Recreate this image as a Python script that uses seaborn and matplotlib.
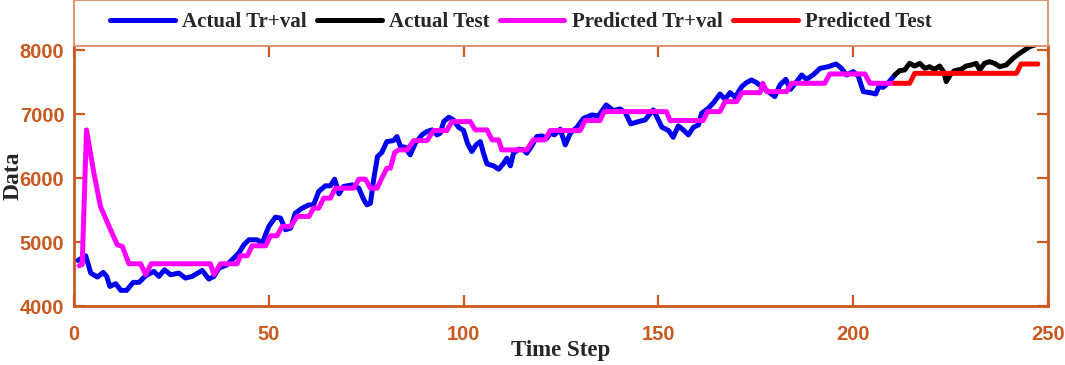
import numpy as np
import pandas as pd
import seaborn as sns
import matplotlib.pyplot as plt
from matplotlib.patches import Rectangle

# %%
# values
actual_trval_t = [1, 3, 4.3, 6, 7.5, 8.4, 9.2, 10.7, 12, 13.5, 15.2, 16.7, 18.4, 20.5, 21.8,
                  23.2, 24.8, 26.9, 28.6, 30.3, 32.9, 34.6, 35.9, 37.2, 39.3, 41, 42.3, 43.6,
                  44.9, 47, 48.3, 50, 51.7, 53, 54.3, 55.6, 56.8, 58.6, 60.3, 61.5, 62.8, 64.5,
                  65.8, 66.9, 68, 69.2, 71.4, 73.1, 74.4, 75.2, 76.1, 76.9, 77.9, 79, 80.3, 82,
                  82.9, 83.8, 85, 86.3, 87.6, 89.3, 90.6, 91.9, 93.2, 94, 94.9, 96.2, 97.4, 98.7,
                  100, 101, 102.1, 103.2, 104.3, 105.1, 106, 107.7, 109, 110.3, 111.1, 112, 112.8,
                  114.1, 115.4, 116.2, 117.5, 118.8, 120.1, 121.4, 122.2, 123.3, 124.8, 126.1,
                  127.4, 129.1, 130.8, 132.9, 134.6, 136.6, 138.5, 140.2, 141.5, 142.9, 144.9,
                  146.6, 147.4, 148.7, 150, 150.9, 152.6, 153.8, 155.1, 156.4, 157.7, 159, 160.3,
                  161.1, 162.8, 164.3, 165.8, 167.1, 168.4, 169.7, 171.4, 172.6, 173.9, 175.2,
                  176.5, 178.2, 179.9, 181.2, 182.7, 183.9, 185.5, 186.8, 188, 189.7, 191.5,
                  193.6, 195.6, 197, 198.3, 200, 201.3, 202.6, 204.3, 205.8, 206.6, 207.7, 208.9,
                  210.7]
actual_trval = [4713, 4786, 4515, 4453, 4526, 4463, 4307, 4349, 4245, 4245, 4370, 4370, 4474,
                4541, 4463, 4567, 4489, 4515, 4437, 4463, 4557, 4422, 4463, 4593, 4646, 4750,
                4828, 4958, 5036, 5036, 4984, 5245, 5390, 5375, 5193, 5219, 5453, 5531, 5583,
                5583, 5791, 5880, 5880, 5984, 5755, 5870, 5895, 5843, 5661, 5583, 5609, 5974,
                6338, 6401, 6572, 6588, 6651, 6494, 6484, 6364, 6546, 6677, 6729, 6755, 6677,
                6703, 6885, 6953, 6911, 6797, 6745, 6546, 6416, 6520, 6572, 6390, 6224, 6192,
                6140, 6234, 6312, 6192, 6390, 6453, 6442, 6390, 6505, 6651, 6661, 6625, 6703,
                6677, 6765, 6520, 6703, 6797, 6937, 6989, 6974, 7145, 7057, 7083, 7026, 6849,
                6885, 6911, 6974, 7067, 6911, 6797, 6745, 6640, 6817, 6755, 6677, 6797, 6833,
                7015, 7093, 7190, 7317, 7234, 7338, 7265, 7432, 7494, 7536, 7494, 7432, 7354,
                7276, 7458, 7546, 7390, 7510, 7614, 7546, 7614, 7718, 7744, 7786, 7718, 7614,
                7666, 7598, 7354, 7338, 7317, 7432, 7421, 7484, 7614]

actual_test_t = [210.7, 211.9, 213.2, 214.5, 215.8, 217.1, 218.4, 219.6, 220.9, 222.2, 223.2,
                 223.9, 224.9, 226, 227.7, 229, 230.3, 231.6, 232.5, 233.7, 235, 236.3, 237.6,
                 239.3, 241, 242.7, 244, 245.3, 246.6, 247.5]
actual_test = [7614, 7682, 7692, 7796, 7754, 7796, 7718, 7744, 7702, 7754, 7666, 7510, 7614,
               7682, 7702, 7754, 7770, 7796, 7692, 7796, 7822, 7796, 7744, 7770, 7874, 7952,
               8004, 8057, 8083, 8110]

pred_trval_t = [1.3, 2.1, 3.2, 5.1, 6.8, 9, 11.1, 12.4, 14.1, 17.1, 18.4, 19.8, 35, 35.9, 37.6,
                41.9, 42.7, 44.5, 45.7, 49.2, 50.4, 52.1, 53.4, 55.6, 57.3, 60.3, 61.5, 62.8,
                64.1, 65.8, 67.1, 71.8, 73.1, 74.8, 76.1, 77.8, 79, 80.3, 81.2, 82.3, 83.3,
                85.5, 87.2, 90.6, 92.3, 95.7, 97, 101.7, 103, 106, 107.3, 109, 109.8, 116.2,
                117.9, 120.9, 122.2, 129.9, 131.2, 135, 136.1, 152.1, 153, 161.5, 162.6, 165.8,
                167.1, 170.1, 171.4, 176.1, 176.8, 177.8, 182.9, 184.2, 192.7, 194, 203, 204.3,
                210.7]
pred_trval = [4630, 4650, 6755, 6078, 5557, 5245, 4958, 4932, 4661, 4661, 4490, 4661, 4661,
              4490, 4661, 4661, 4786, 4786, 4942, 4942, 5099, 5099, 5245, 5245, 5401, 5401,
              5531, 5531, 5687, 5687, 5843, 5843, 5984, 5984, 5843, 5843, 6000, 6156, 6156,
              6400, 6442, 6442, 6588, 6588, 6745, 6745, 6885, 6885, 6755, 6755, 6599, 6599,
              6442, 6442, 6599, 6599, 6745, 6745, 6901, 6901, 7041, 7041, 6901, 6901, 7041,
              7041, 7197, 7197, 7338, 7338, 7484, 7354, 7354, 7484, 7484, 7630, 7630, 7484,
              7484]

pred_test_t = [210.7, 214.5, 215.8, 241.9, 243.1, 247.4]
pred_test = [7484, 7484, 7640, 7640, 7786, 7786]

labels = ["Actual Tr+val", "Actual Test", "Predicted Tr+val", "Predicted Test"]
colors = ["#0000F0", "#000000", "#FF00FF", "#FF0000"]
orange = "#C9591F"

# %%
sns.set_style("white")

fig = plt.figure(figsize=(10.65, 3.65), dpi=100)
ax = fig.add_axes([0.0695, 0.1616, 0.9145, 0.7137])

series = [(actual_trval_t, actual_trval), (actual_test_t, actual_test),
          (pred_trval_t, pred_trval), (pred_test_t, pred_test)]
for (t, v), lab, c in zip(series, labels, colors):
    df = pd.DataFrame({"Time Step": t, "Data": v})
    sns.lineplot(data=df, x="Time Step", y="Data", color=c, lw=3.6, label=lab,
                 estimator=None, sort=False, ax=ax)

ax.set_xlim(0, 250)
ax.set_ylim(4000, 8075)
ax.set_xticks([0, 50, 100, 150, 200, 250])
ax.set_yticks([4000, 5000, 6000, 7000, 8000])

for side in ["left", "right", "bottom"]:
    ax.spines[side].set_color(orange)
    ax.spines[side].set_linewidth(2)
ax.spines["top"].set_visible(False)

ax.tick_params(axis="both", direction="in", length=8, width=1.6, color=orange,
               labelcolor=orange, top=True, right=True, bottom=True, left=True)
ax.tick_params(axis="x", pad=14)
ax.tick_params(axis="y", pad=7)
for lbl in ax.get_xticklabels() + ax.get_yticklabels():
    lbl.set_family("Liberation Sans")
    lbl.set_weight("bold")
    lbl.set_size(14.5)

ax.set_xlabel("Time Step", family="Liberation Serif", weight="bold", size=16.5)
ax.set_ylabel("Data", family="Liberation Serif", weight="bold", size=17)
ax.xaxis.set_label_coords(0.5, -0.13)
ax.yaxis.set_label_coords(-0.052, 0.5)

# legend box sitting on top of the axes
box = Rectangle((0, 1.0), 1.0, 0.175, transform=ax.transAxes, clip_on=False,
                facecolor="white", edgecolor="#DE8C69", lw=1.3, zorder=5)
ax.add_patch(box)
handles, labs = ax.get_legend_handles_labels()
leg = ax.legend(handles, labs, loc="center left", bbox_to_anchor=(0.037, 1.09), ncol=4,
                frameon=False, borderpad=0, borderaxespad=0, handlelength=3.1,
                handletextpad=0.35, columnspacing=0.5,
                prop={"family": "Liberation Serif", "weight": "bold", "size": 15})
leg.set_zorder(6)

fig.savefig("out.png", dpi=100)
